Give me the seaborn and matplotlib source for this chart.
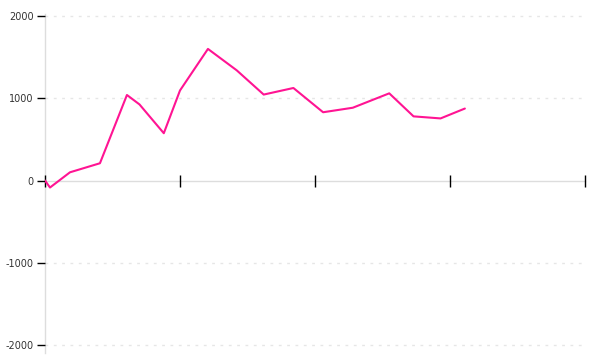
import matplotlib
matplotlib.use("Agg")
import matplotlib.pyplot as plt
import seaborn as sns
import pandas as pd

# data (x in arbitrary time units, ticks every 10)
x_vals = [0, 0.37, 1.85, 4.07, 6.07, 7.0, 8.8, 10.0, 12.07, 14.2, 16.2, 18.4, 20.6, 22.8, 25.5, 27.3, 29.3, 31.1]
y_vals = [0, -85, 100, 210, 1040, 925, 575, 1095, 1600, 1340, 1045, 1125, 830, 885, 1060, 780, 755, 875]
y_ticks = [-2000, -1000, 0, 1000, 2000]
x_ticks = [0, 10, 20, 30, 40]

sns.set_theme(style="white")
plt.rcParams['font.family'] = ['DejaVu Sans']

df = pd.DataFrame({"x": x_vals, "y": y_vals})

fig = plt.figure(figsize=(6, 3.6), dpi=100)
ax = fig.add_axes([0.075, 0.0194, 0.9, 0.9416])
ax.set_axisbelow(False)

sns.lineplot(data=df, x="x", y="y", ax=ax, color="#FF1493", linewidth=1.5, sort=False, zorder=3)

ax.set_xlim(0, 40)
ax.set_ylim(-2097, 2024)
ax.set_xticks(x_ticks)
ax.set_xticklabels([])
ax.set_yticks(y_ticks)
ax.set_yticklabels([str(v) for v in y_ticks], fontsize=7, color="#333333")
ax.set_xlabel("")
ax.set_ylabel("")

for v in y_ticks:
    if v != 0:
        ax.axhline(v, color="#e6e6e6", linestyle=(0, (2, 4)), linewidth=1, zorder=0)

for s in ["top", "right"]:
    ax.spines[s].set_visible(False)
ax.spines["left"].set_color("#dddddd")
ax.spines["left"].set_linewidth(1)
ax.spines["left"].set_zorder(1)
ax.spines["bottom"].set_position(("data", 0))
ax.spines["bottom"].set_color("#dddddd")
ax.spines["bottom"].set_linewidth(1)
ax.spines["bottom"].set_zorder(1)

ax.tick_params(axis="x", direction="inout", length=8, width=1, color="black", bottom=True)
ax.tick_params(axis="y", direction="out", length=6, width=1, color="black", left=True, pad=2)

fig.savefig("out.png", dpi=100)
